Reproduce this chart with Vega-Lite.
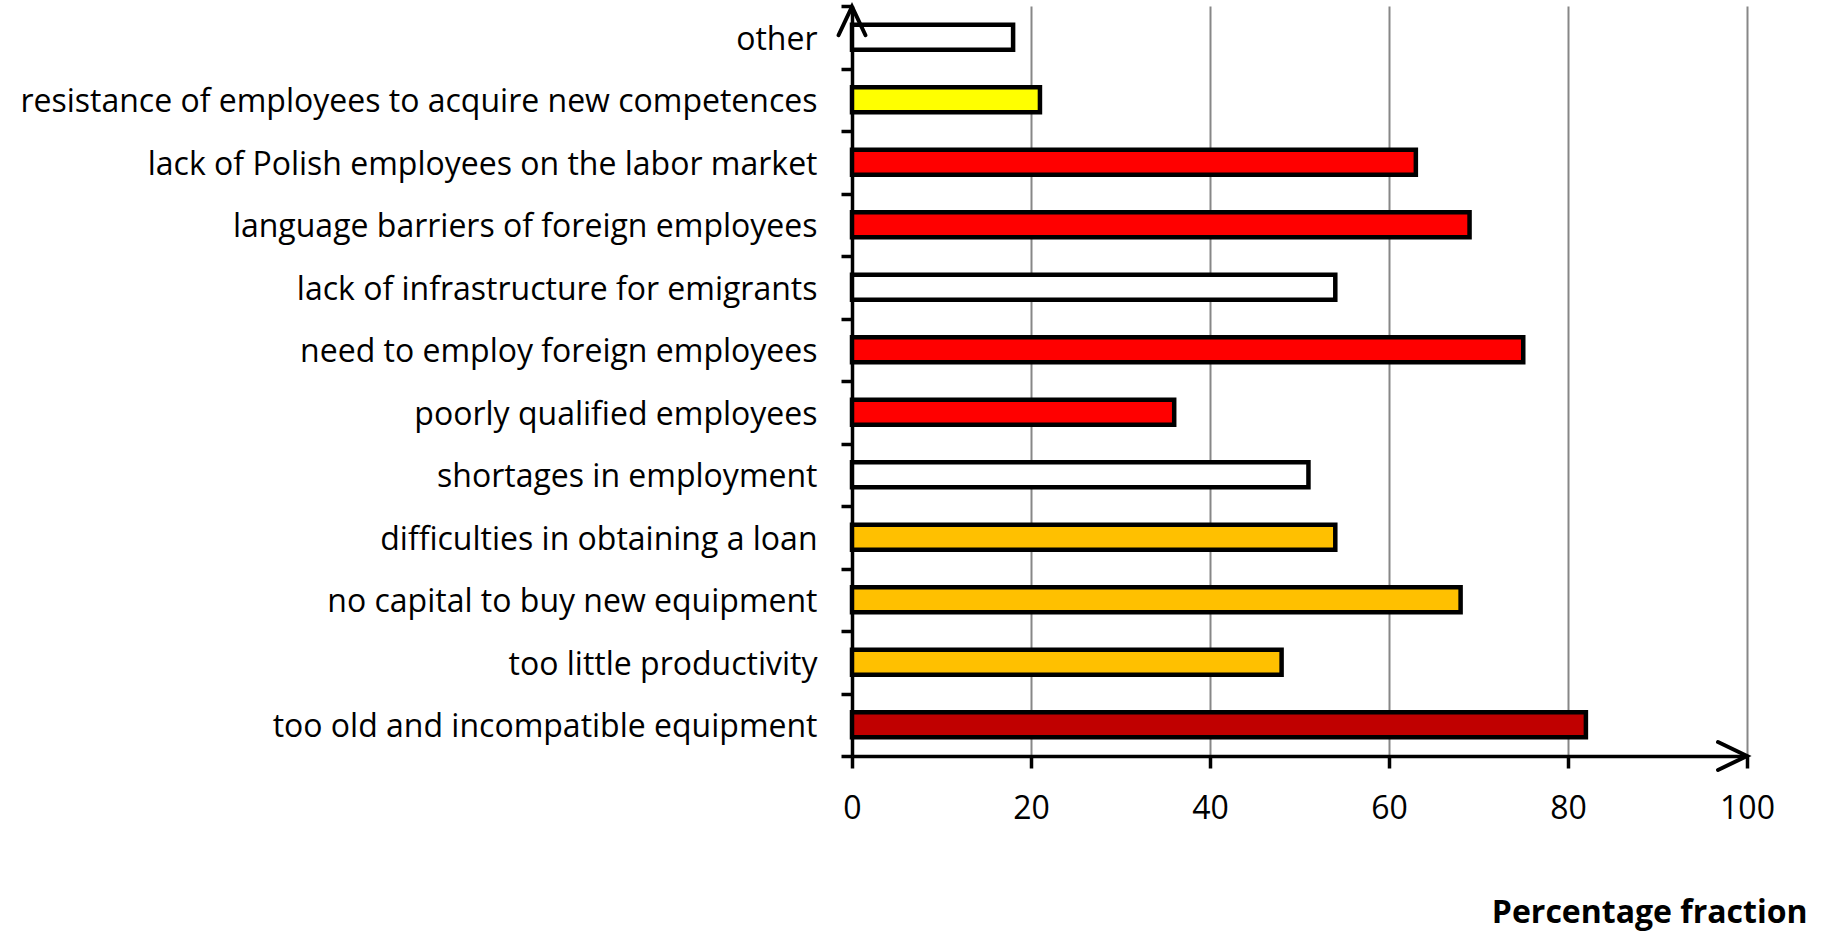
{
  "$schema": "https://vega.github.io/schema/vega-lite/v6.json",
  "width": 895,
  "height": 750,
  "autosize": {"type": "none"},
  "padding": {"left": 852, "top": 6, "right": 75, "bottom": 178},
  "background": "white",
  "config": {"view": {"stroke": null}, "font": "Open Sans"},
  "layer": [
    {
      "data": {
        "values": [
          {"factor": "other", "percent": 18, "group": "other"},
          {"factor": "resistance of employees to acquire new competences", "percent": 21, "group": "competences"},
          {"factor": "lack of Polish employees on the labor market", "percent": 63, "group": "personnel"},
          {"factor": "language barriers of foreign employees", "percent": 69, "group": "personnel"},
          {"factor": "lack of infrastructure for emigrants", "percent": 54, "group": "other"},
          {"factor": "need to employ foreign employees", "percent": 75, "group": "personnel"},
          {"factor": "poorly qualified employees", "percent": 36, "group": "personnel"},
          {"factor": "shortages in employment", "percent": 51, "group": "other"},
          {"factor": "difficulties in obtaining a loan", "percent": 54, "group": "finance"},
          {"factor": "no capital to buy new equipment", "percent": 68, "group": "finance"},
          {"factor": "too little productivity", "percent": 48, "group": "finance"},
          {"factor": "too old and incompatible equipment", "percent": 82, "group": "equipment"}
        ]
      },
      "mark": {"type": "bar", "stroke": "black", "strokeWidth": 4.5, "size": 25},
      "encoding": {
        "y": {
          "field": "factor",
          "type": "nominal",
          "sort": null,
          "scale": {
            "domain": [
              "other",
              "resistance of employees to acquire new competences",
              "lack of Polish employees on the labor market",
              "language barriers of foreign employees",
              "lack of infrastructure for emigrants",
              "need to employ foreign employees",
              "poorly qualified employees",
              "shortages in employment",
              "difficulties in obtaining a loan",
              "no capital to buy new equipment",
              "too little productivity",
              "too old and incompatible equipment"
            ],
            "paddingInner": 0,
            "paddingOuter": 0
          },
          "axis": {
            "title": null,
            "labelFont": "Open Sans",
            "labelFontSize": 32,
            "labelColor": "black",
            "labelPadding": 24,
            "labelOffset": 2,
            "labelLimit": 0,
            "tickSize": 11,
            "tickWidth": 3.5,
            "tickColor": "black",
            "tickBand": "extent",
            "domainColor": "black",
            "domainWidth": 3.5,
            "grid": false
          }
        },
        "x": {
          "field": "percent",
          "type": "quantitative",
          "scale": {"domain": [0, 100], "nice": false},
          "axis": {
            "values": [0, 20, 40, 60, 80, 100],
            "title": "Percentage fraction",
            "titleFont": "Open Sans",
            "titleFontSize": 32,
            "titleFontWeight": "bold",
            "titleColor": "black",
            "titleAnchor": "end",
            "titleAlign": "right",
            "titleBaseline": "alphabetic",
            "titleX": 955,
            "titleY": 166,
            "grid": true,
            "gridColor": "#878787",
            "gridWidth": 2,
            "tickSize": 12,
            "tickWidth": 3.5,
            "tickColor": "black",
            "domainColor": "black",
            "domainWidth": 3.5,
            "labelFont": "Open Sans",
            "labelFontSize": 32,
            "labelColor": "black",
            "labelPadding": 25,
            "labelFlush": false
          }
        },
        "fill": {
          "field": "group",
          "type": "nominal",
          "scale": {
            "domain": ["other", "competences", "personnel", "finance", "equipment"],
            "range": ["#FFFFFF", "#FFFF00", "#FF0000", "#FFC000", "#C00000"]
          },
          "legend": null
        }
      }
    },
    {
      "data": {"values": [{"factor": "other", "percent": 0}]},
      "mark": {"type": "point", "shape": "M -13.5,-2 L 0,-30.5 L 13.5,-2", "size": 4, "filled": false, "stroke": "black", "strokeWidth": 4, "opacity": 1, "strokeCap": "round"},
      "encoding": {
        "x": {"field": "percent", "type": "quantitative"},
        "y": {"field": "factor", "type": "nominal"}
      }
    },
    {
      "data": {"values": [{"factor": "too old and incompatible equipment", "percent": 100}]},
      "mark": {"type": "point", "shape": "M -29,17.25 L 0,31.25 L -29,45.25", "size": 4, "filled": false, "stroke": "black", "strokeWidth": 4, "opacity": 1, "strokeCap": "round"},
      "encoding": {
        "x": {"field": "percent", "type": "quantitative"},
        "y": {"field": "factor", "type": "nominal"}
      }
    }
  ]
}
